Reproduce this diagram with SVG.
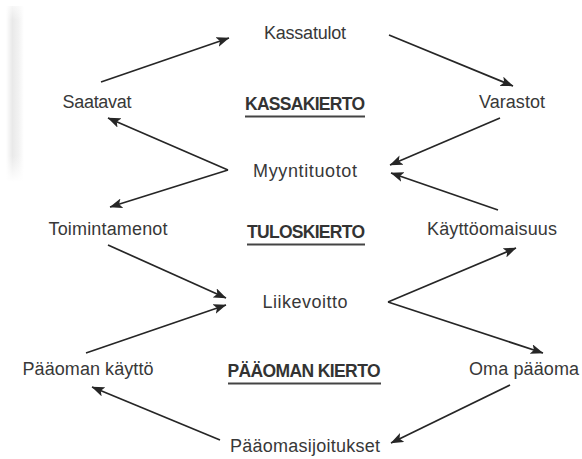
<svg xmlns="http://www.w3.org/2000/svg" width="582" height="459" viewBox="0 0 582 459">
<defs>
<linearGradient id="edge" x1="0" y1="0" x2="1" y2="0">
<stop offset="0" stop-color="#ffffff"/>
<stop offset="0.35" stop-color="#e9e9e9"/>
<stop offset="0.7" stop-color="#f2f2f2"/>
<stop offset="1" stop-color="#ffffff"/>
</linearGradient>
<linearGradient id="edgefade" x1="0" y1="0" x2="0" y2="1">
<stop offset="0" stop-color="#fff" stop-opacity="0.6"/>
<stop offset="0.08" stop-color="#fff" stop-opacity="0"/>
<stop offset="0.85" stop-color="#fff" stop-opacity="0"/>
<stop offset="1" stop-color="#fff" stop-opacity="1"/>
</linearGradient>
<marker id="ah" viewBox="0 0 13 10" refX="12.5" refY="5" markerWidth="13" markerHeight="10" markerUnits="userSpaceOnUse" orient="auto">
<path d="M0,0 L13,5 L0,10 L3,5 Z" fill="#262626"/>
</marker>
<style>
.lbl{font-family:"Liberation Sans",Arial,sans-serif;font-size:18px;fill:#383838;text-anchor:middle}
.ttl{font-family:"Liberation Sans",Arial,sans-serif;font-size:17.5px;font-weight:bold;fill:#333333;text-anchor:middle}
.ul{stroke:#444444;stroke-width:2.2}
.arr{stroke:#262626;stroke-width:1.7;fill:none;marker-end:url(#ah)}
</style>
</defs>
<rect width="582" height="459" fill="#ffffff"/>
<rect x="6" y="6" width="18" height="176" fill="url(#edge)"/>
<rect x="6" y="6" width="18" height="176" fill="url(#edgefade)"/>

<g id="connectors">
<line class="arr" x1="101" y1="82" x2="229" y2="38"/>
<line class="arr" x1="389" y1="35" x2="513" y2="86"/>
<line class="arr" x1="228" y1="170" x2="108" y2="118"/>
<line class="arr" x1="228" y1="170" x2="110" y2="207"/>
<line class="arr" x1="500" y1="118" x2="390" y2="165"/>
<line class="arr" x1="498" y1="210" x2="391" y2="173"/>
<line class="arr" x1="108" y1="245" x2="226" y2="298"/>
<line class="arr" x1="86" y1="353" x2="226" y2="305"/>
<line class="arr" x1="388" y1="302" x2="516" y2="248"/>
<line class="arr" x1="388" y1="302" x2="543" y2="353"/>
<line class="arr" x1="510" y1="385" x2="391" y2="443"/>
<line class="arr" x1="220" y1="440" x2="92" y2="387"/>
</g>

<g id="kassatulot"><text class="lbl" x="305" y="39" textLength="82">Kassatulot</text></g>
<g id="saatavat"><text class="lbl" x="97" y="108" textLength="69">Saatavat</text></g>
<g id="varastot"><text class="lbl" x="512" y="108" textLength="66">Varastot</text></g>
<g id="kassakierto"><text class="ttl" x="305" y="110" textLength="120">KASSAKIERTO</text><line class="ul" x1="245" y1="116.5" x2="365" y2="116.5"/></g>
<g id="myyntituotot"><text class="lbl" x="305" y="177" textLength="104">Myyntituotot</text></g>
<g id="toimintamenot"><text class="lbl" x="108" y="235" textLength="119">Toimintamenot</text></g>
<g id="tuloskierto"><text class="ttl" x="306" y="238" textLength="118">TULOSKIERTO</text><line class="ul" x1="247" y1="244.5" x2="365" y2="244.5"/></g>
<g id="kayttoomaisuus"><text class="lbl" x="492" y="235" textLength="130">Käyttöomaisuus</text></g>
<g id="liikevoitto"><text class="lbl" x="305" y="308" textLength="85">Liikevoitto</text></g>
<g id="paaoman-kaytto"><text class="lbl" x="88" y="375" textLength="131">Pääoman käyttö</text></g>
<g id="paaoman-kierto"><text class="ttl" x="304" y="377" textLength="153">PÄÄOMAN KIERTO</text><line class="ul" x1="228" y1="383.5" x2="381" y2="383.5"/></g>
<g id="oma-paaoma"><text class="lbl" x="524" y="375" textLength="110">Oma pääoma</text></g>
<g id="paaomasijoitukset"><text class="lbl" x="305" y="452" textLength="150">Pääomasijoitukset</text></g>
</svg>
